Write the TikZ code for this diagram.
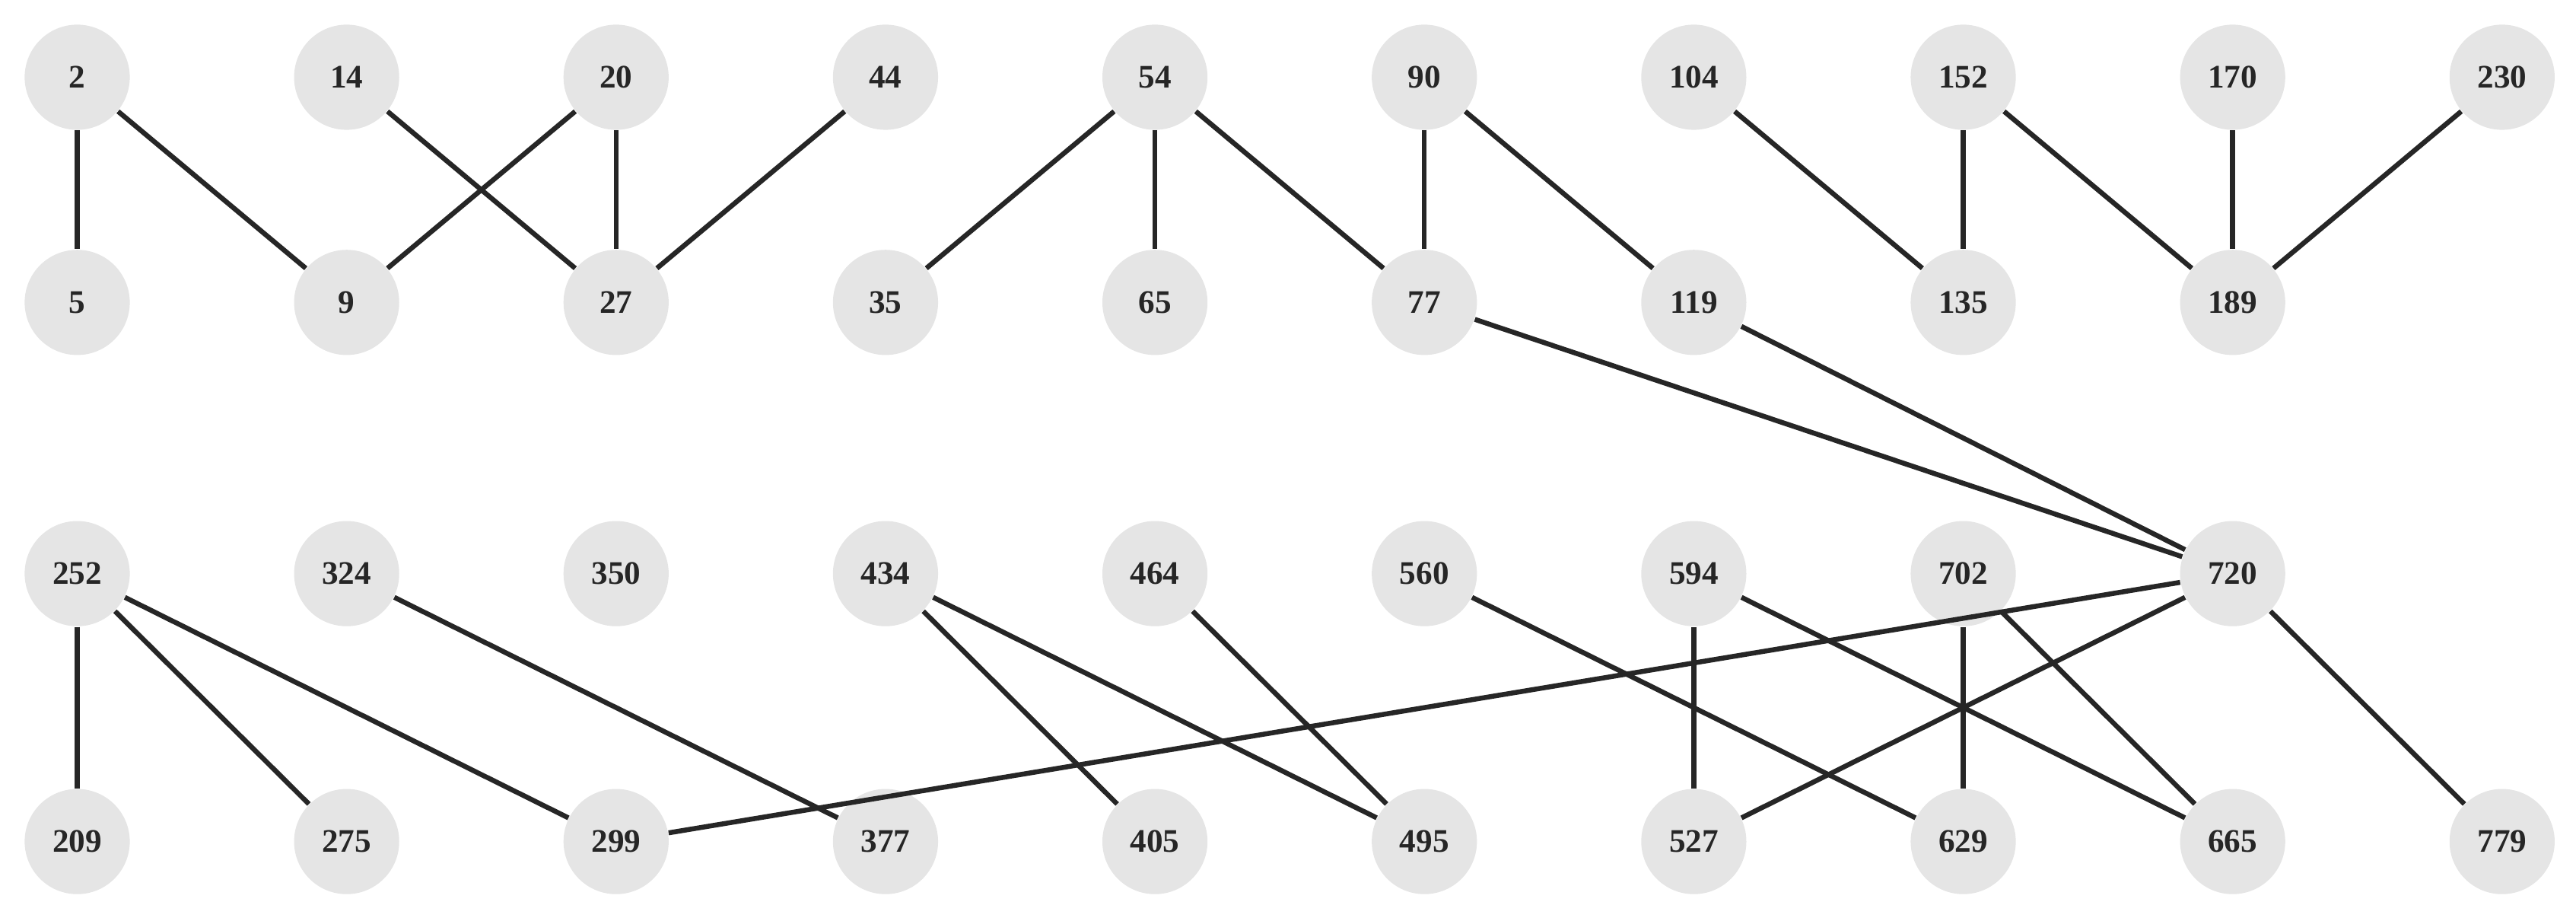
\documentclass[tikz,border=0pt]{standalone}
\usepackage{fontspec}
\setmainfont{Liberation Serif}
\begin{document}
\begin{tikzpicture}[x=0.5pt,y=-0.5pt,
  nd/.style={circle,fill=black!10,minimum size=32pt,inner sep=0pt,font=\bfseries\fontsize{10}{12}\selectfont,text=black!85},
  ed/.style={line width=1.5pt,draw=black!85}]
\useasboundingbox (0,0) rectangle (1568,560);
\def\cx#1{47+164*#1}
\foreach \n/\c in {2/0,14/1,20/2,44/3,54/4,90/5,104/6,152/7,170/8,230/9}{\node[nd] (n\n) at ({\cx{\c}},47) {\n};}
\foreach \n/\c in {5/0,9/1,27/2,35/3,65/4,77/5,119/6,135/7,189/8}{\node[nd] (n\n) at ({\cx{\c}},184) {\n};}
\foreach \n/\c in {252/0,324/1,350/2,434/3,464/4,560/5,594/6,702/7,720/8}{\node[nd] (n\n) at ({\cx{\c}},349) {\n};}
\foreach \n/\c in {209/0,275/1,299/2,377/3,405/4,495/5,527/6,629/7,665/8,779/9}{\node[nd] (n\n) at ({\cx{\c}},512) {\n};}
\begin{scope}[on background layer/.style={}]
\foreach \a/\b in {2/5,2/9,14/27,20/9,20/27,44/27,54/35,54/65,54/77,90/77,90/119,104/135,152/135,152/189,170/189,230/189,77/720,119/720,252/209,252/275,252/299,324/377,434/405,434/495,464/495,560/629,594/527,594/665,702/629,702/665,720/299,720/527,720/779}
  {\draw[ed] (n\a) -- (n\b);}
\end{scope}
\end{tikzpicture}
\end{document}
